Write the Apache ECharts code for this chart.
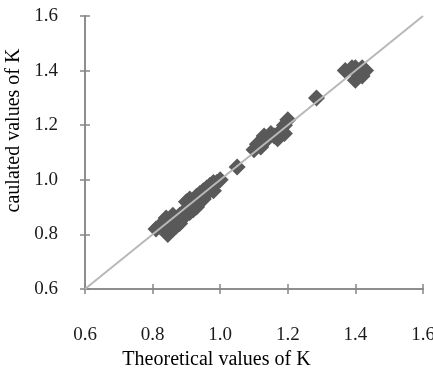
<!DOCTYPE html>
<html>
<head>
<meta charset="utf-8">
<script src="https://cdn.jsdelivr.net/npm/echarts@6/dist/echarts.min.js"></script>
<style>
  html, body { margin: 0; padding: 0; background: #fff; }
  #chart { width: 433px; height: 368px; }
</style>
</head>
<body>
<div id="chart"></div>
<script>
// theoretical K (x) vs calculated K (y)
const theoretical = [
  0.81, 0.82, 0.83, 0.84, 0.84, 0.845, 0.85, 0.86, 0.86, 0.87, 0.87, 0.88,
  0.88, 0.89, 0.89, 0.90, 0.90, 0.91, 0.91, 0.92, 0.92, 0.93, 0.93, 0.94,
  0.94, 0.95, 0.95, 0.96, 0.96, 0.97, 0.98, 0.98, 0.99, 1.00,
  1.05,
  1.10, 1.11, 1.12, 1.13, 1.14, 1.15, 1.16, 1.17, 1.18, 1.19, 1.20, 1.19,
  1.285,
  1.37, 1.39, 1.40, 1.42, 1.43, 1.42, 1.40, 1.41
];
const calculated = [
  0.82, 0.83, 0.84, 0.82, 0.86, 0.80, 0.84, 0.82, 0.87, 0.85, 0.83, 0.87,
  0.84, 0.88, 0.86, 0.92, 0.88, 0.93, 0.88, 0.92, 0.89, 0.94, 0.90, 0.95,
  0.92, 0.96, 0.93, 0.97, 0.95, 0.98, 0.99, 0.96, 0.99, 1.00,
  1.047,
  1.11, 1.13, 1.12, 1.16, 1.15, 1.17, 1.16, 1.15, 1.18, 1.20, 1.22, 1.17,
  1.30,
  1.40, 1.41, 1.41, 1.41, 1.40, 1.38, 1.365, 1.39
];
const refLine = [0.6, 1.6];

const points = theoretical.map((x, i) => [x, calculated[i]]);

const chart = echarts.init(document.getElementById('chart'));

const axisColor = '#878787';
const font = '"Liberation Serif", "Times New Roman", serif';

function valueAxis(extra) {
  return Object.assign({
    type: 'value',
    min: 0.6,
    max: 1.6,
    interval: 0.2,
    splitLine: { show: false },
    axisLine: { show: true, onZero: false, lineStyle: { color: axisColor, width: 1.5 } },
    axisTick: { show: true, length: 5, lineStyle: { color: axisColor, width: 1.5 } },
    axisLabel: {
      color: '#1a1a1a',
      fontFamily: font,
      fontSize: 19,
      formatter: (v) => v.toFixed(1)
    }
  }, extra);
}

chart.setOption({
  backgroundColor: '#fff',
  animation: false,
  grid: { left: 85, right: 10, top: 16, bottom: 79, containLabel: false, outerBoundsMode: 'none' },
  xAxis: [
    valueAxis({
      name: 'Theoretical values of K',
      nameLocation: 'middle',
      nameGap: 56,
      nameTextStyle: { color: '#000', fontFamily: font, fontSize: 20, padding: [0, 75, 0, 0] },
      axisLabel: {
        color: '#1a1a1a', fontFamily: font, fontSize: 19, margin: 37,
        formatter: (v) => v.toFixed(1)
      }
    }),
    valueAxis({
      position: 'bottom',
      axisTick: { show: true, inside: true, length: 5, lineStyle: { color: axisColor, width: 1.5 } },
      axisLabel: { show: false }
    })
  ],
  yAxis: [
    valueAxis({
      name: 'caulated values of K',
      nameLocation: 'middle',
      nameGap: 58,
      nameTextStyle: { color: '#000', fontFamily: font, fontSize: 20, padding: [0, 0, 0, 44] },
      axisLabel: {
        color: '#1a1a1a', fontFamily: font, fontSize: 19, margin: 27,
        formatter: (v) => v.toFixed(1)
      }
    }),
    valueAxis({
      position: 'left',
      axisTick: { show: true, inside: true, length: 5, lineStyle: { color: axisColor, width: 1.5 } },
      axisLabel: { show: false }
    })
  ],
  series: [
    {
      type: 'scatter',
      symbol: 'diamond',
      symbolSize: 17,
      data: points,
      itemStyle: { color: '#595959', opacity: 1 },
      z: 2
    },
    {
      type: 'line',
      data: refLine.map((v) => [v, v]),
      symbol: 'none',
      lineStyle: { color: '#b8b8b8', width: 2 },
      z: 3,
      silent: true
    }
  ]
});
</script>
</body>
</html>
